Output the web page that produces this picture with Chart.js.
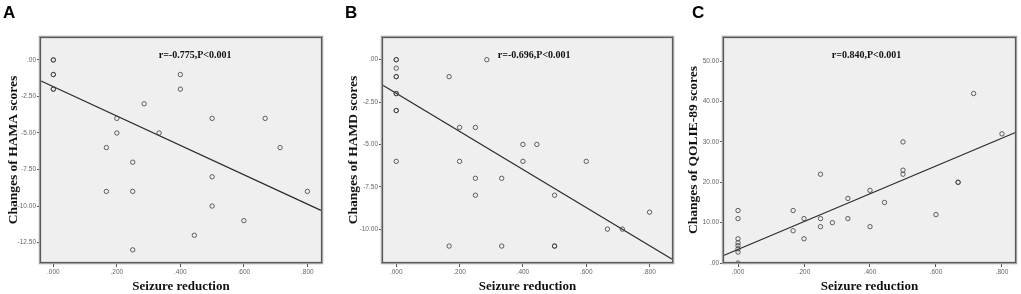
<!DOCTYPE html>
<html>
<head>
<meta charset="utf-8">
<script src="https://cdn.jsdelivr.net/npm/chart.js@4.4.1/dist/chart.umd.min.js"></script>
<style>
  html, body { margin:0; padding:0; background:#fff; }
  #wrap { position:relative; width:1021px; height:294px; overflow:hidden; }
  .panel { position:absolute; top:0; height:294px; }
  .letter { position:absolute; top:3px; font-family:"Liberation Sans", Arial, sans-serif; font-weight:bold; font-size:17px; color:#000; }
</style>
</head>
<body>
<div id="wrap">
  <div class="panel" style="left:0;width:340px"><canvas id="cA" width="340" height="294"></canvas></div>
  <div class="panel" style="left:340px;width:340px"><canvas id="cB" width="340" height="294"></canvas></div>
  <div class="panel" style="left:680px;width:341px"><canvas id="cC" width="341" height="294"></canvas></div>
  <div class="letter" style="left:3px">A</div>
  <div class="letter" style="left:345px">B</div>
  <div class="letter" style="left:692px">C</div>
</div>
<script>
// ---------- data ----------
const xTicks = [0, 0.2, 0.4, 0.6, 0.8];
const xTickLabels = ['.000', '.200', '.400', '.600', '.800'];
const xTitle = 'Seizure reduction';

// Panel A: HAMA
const aX = [0, 0, 0, 0, 0, 0, 0.4, 0.4, 0.286, 0.2, 0.2, 0.333, 0.5, 0.667, 0.167, 0.714, 0.25, 0.5, 0.167, 0.25, 0.8, 0.5, 0.6, 0.444, 0.25];
const aY = [0, 0, -1, -1, -2, -2, -1, -2, -3, -4, -5, -5, -4, -4, -6, -6, -7, -8, -9, -9, -9, -10, -11, -12, -13];
const aFitX = [-0.042, 0.846];
const aFitY = [-1.41, -10.33];
const aYTicks = [0, -2.5, -5, -7.5, -10, -12.5];
const aYTickLabels = ['.00', '-2.50', '-5.00', '-7.50', '-10.00', '-12.50'];
const aTitle = 'Changes of HAMA scores';
const aNote = 'r=-0.775,P<0.001';

// Panel B: HAMD
const bX = [0, 0, 0, 0, 0, 0, 0, 0, 0, 0, 0.286, 0.167, 0.2, 0.25, 0.4, 0.444, 0.2, 0.4, 0.6, 0.25, 0.333, 0.25, 0.5, 0.8, 0.667, 0.714, 0.167, 0.333, 0.5, 0.5];
const bY = [0, 0, -0.5, -1, -1, -2, -2, -3, -3, -6, 0, -1, -4, -4, -5, -5, -6, -6, -6, -7, -7, -8, -8, -9, -10, -10, -11, -11, -11, -11];
const bFitX = [-0.045, 0.874];
const bFitY = [-1.48, -11.81];
const bYTicks = [0, -2.5, -5, -7.5, -10];
const bYTickLabels = ['.00', '-2.50', '-5.00', '-7.50', '-10.00'];
const bTitle = 'Changes of HAMD scores';
const bNote = 'r=-0.696,P<0.001';

// Panel C: QOLIE-89
const cX = [0, 0, 0, 0, 0, 0, 0, 0, 0.167, 0.167, 0.2, 0.2, 0.25, 0.25, 0.25, 0.286, 0.333, 0.333, 0.4, 0.4, 0.444, 0.5, 0.5, 0.5, 0.6, 0.667, 0.667, 0.714, 0.8];
const cY = [13, 11, 6, 5, 4.3, 3.5, 2.7, 0, 13, 8, 11, 6, 22, 11, 9, 10, 16, 11, 18, 9, 15, 30, 23, 22, 12, 20, 20, 42, 32];
const cFitX = [-0.0455, 0.8425];
const cFitY = [1.8, 32.4];
const cYTicks = [0, 10, 20, 30, 40, 50];
const cYTickLabels = ['.00', '10.00', '20.00', '30.00', '40.00', '50.00'];
const cTitle = 'Changes of QOLIE-89 scores';
const cNote = 'r=0.840,P<0.001';

// ---------- rendering ----------
const SERIF = '"Liberation Serif", "Times New Roman", serif';
const SANS = '"Liberation Sans", Arial, sans-serif';

const framePlugin = {
  id: 'frame',
  beforeDatasetsDraw(chart) {
    const a = chart.chartArea, ctx = chart.ctx;
    ctx.save();
    ctx.fillStyle = '#efefef';
    ctx.fillRect(a.left, a.top, a.right - a.left, a.bottom - a.top);
    ctx.restore();
  },
  afterDraw(chart, args, opts) {
    const a = chart.chartArea, ctx = chart.ctx;
    ctx.save();
    ctx.strokeStyle = '#a0a0a0';
    ctx.lineWidth = 2.5;
    ctx.strokeRect(a.left, a.top, a.right - a.left, a.bottom - a.top);
    ctx.strokeStyle = '#5a5a5a';
    ctx.lineWidth = 1;
    ctx.strokeRect(a.left + 0.5, a.top + 0.5, a.right - a.left - 1, a.bottom - a.top - 1);
    ctx.fillStyle = '#111';
    ctx.font = 'bold 10px ' + SERIF;
    ctx.textAlign = 'center';
    ctx.textBaseline = 'middle';
    ctx.fillText(opts.note, a.left + (a.right - a.left) * opts.noteFrac, a.top + 18);
    ctx.restore();
  }
};

function makeChart(id, xs, ys, fitX, fitY, xMin, xMax, yMin, yMax, yTicks, yLabels, yTitle, note, noteFrac, box) {
  const pts = xs.map((x, i) => ({ x: x, y: ys[i] }));
  const fit = fitX.map((x, i) => ({ x: x, y: fitY[i] }));
  const canvas = document.getElementById(id);
  new Chart(canvas, {
    type: 'scatter',
    data: {
      datasets: [
        { data: pts, pointRadius: 2.2, pointBorderWidth: 1, pointBorderColor: 'rgba(60,60,60,0.8)', pointBackgroundColor: 'rgba(0,0,0,0)', pointHoverRadius: 2.2 },
        { type: 'line', data: fit, borderColor: '#2a2a2a', borderWidth: 1.2, pointRadius: 0, fill: false, clip: false }
      ]
    },
    options: {
      responsive: false,
      animation: false,
      events: [],
      layout: { padding: { left: 0, top: box.top, right: box.right, bottom: 0 } },
      plugins: {
        legend: { display: false },
        tooltip: { enabled: false },
        frame: { note: note, noteFrac: noteFrac }
      },
      scales: {
        x: {
          type: 'linear', min: xMin, max: xMax,
          afterBuildTicks: s => { s.ticks = xTicks.map(v => ({ value: v })); },
          afterFit: s => { s.height = box.bottomH; },
          grid: { display: true, drawOnChartArea: false, drawTicks: true, tickLength: 4, color: '#555', lineWidth: 1 },
          border: { display: false },
          ticks: { maxRotation: 0, autoSkip: false, padding: 1, color: '#666', font: { family: SANS, size: 6.5 },
                   callback: v => { const i = xTicks.indexOf(v); return i >= 0 ? xTickLabels[i] : ''; } },
          title: { display: true, text: xTitle, color: '#111', font: { family: SERIF, size: 13, weight: 'bold' }, padding: { top: 4, bottom: 0 } }
        },
        y: {
          type: 'linear', min: yMin, max: yMax,
          afterBuildTicks: s => { s.ticks = yTicks.map(v => ({ value: v })); },
          afterFit: s => { s.width = box.left; },
          grid: { display: true, drawOnChartArea: false, drawTicks: true, tickLength: 3, color: '#555', lineWidth: 1 },
          border: { display: false },
          ticks: { autoSkip: false, padding: 1, color: '#666', font: { family: SANS, size: 6.5 },
                   callback: v => { const i = yTicks.indexOf(v); return i >= 0 ? yLabels[i] : ''; } },
          title: { display: true, text: yTitle, color: '#111', font: { family: SERIF, size: 13.5, weight: 'bold' }, padding: { top: 5, bottom: 0 } }
        }
      }
    },
    plugins: [framePlugin]
  });
}

makeChart('cA', aX, aY, aFitX, aFitY, -0.042, 0.846, -13.9, 1.57, aYTicks, aYTickLabels, aTitle, aNote, 0.55,
          { left: 40, right: 18, top: 37, bottomH: 31 });
makeChart('cB', bX, bY, bFitX, bFitY, -0.045, 0.874, -12.0, 1.34, bYTicks, bYTickLabels, bTitle, bNote, 0.523,
          { left: 42, right: 7, top: 37, bottomH: 31 });
makeChart('cC', cX, cY, cFitX, cFitY, -0.0455, 0.8425, 0, 56.0, cYTicks, cYTickLabels, cTitle, cNote, 0.49,
          { left: 43, right: 5, top: 37, bottomH: 31 });
</script>
</body>
</html>
